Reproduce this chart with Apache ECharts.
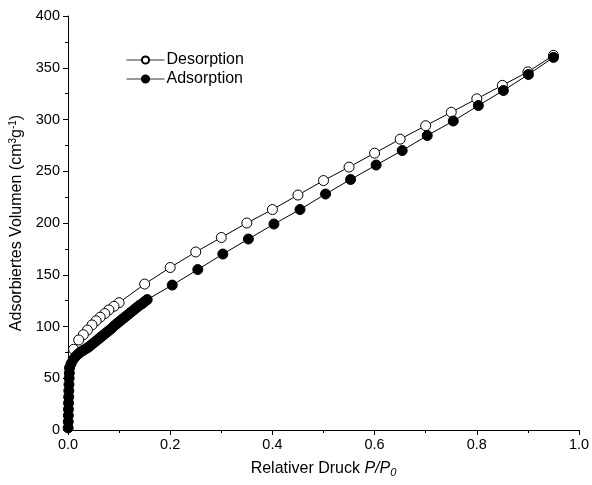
<!DOCTYPE html>
<html>
<head>
<meta charset="utf-8">
<script src="https://cdn.jsdelivr.net/npm/echarts@6/dist/echarts.min.js"></script>
<style>
  html, body { margin: 0; padding: 0; background: #fff; }
  #chart { width: 592px; height: 485px; }
</style>
</head>
<body>
<div id="chart"></div>
<script>
// Nitrogen sorption isotherm: relative pressure vs. adsorbed volume
const desorptionP = [0.950, 0.900, 0.850, 0.800, 0.750, 0.700, 0.650, 0.600, 0.550, 0.500,
  0.450, 0.400, 0.350, 0.300, 0.250, 0.200, 0.150, 0.100, 0.090, 0.080, 0.072, 0.063,
  0.055, 0.047, 0.038, 0.030, 0.021, 0.011];
const desorptionV = [362, 346, 333, 320, 307, 294, 281, 267.5, 254, 241,
  227, 213, 200, 186, 172, 157, 141, 123, 119.5, 116, 112.5, 109,
  105.5, 101.5, 96.5, 92, 87, 78];

const adsorptionP = [0.0003, 0.0005, 0.0007, 0.0009, 0.0011, 0.0013, 0.0016, 0.0019, 0.0022,
  0.0026, 0.003, 0.006, 0.010, 0.015, 0.020, 0.025, 0.030, 0.035, 0.040, 0.045, 0.050,
  0.055, 0.060, 0.065, 0.070, 0.075, 0.080, 0.085, 0.090, 0.095, 0.100, 0.105, 0.110,
  0.115, 0.120, 0.125, 0.130, 0.135, 0.140, 0.145, 0.150, 0.155,
  0.204, 0.254, 0.303, 0.353, 0.403, 0.454, 0.504, 0.553, 0.603, 0.654, 0.703,
  0.754, 0.803, 0.852, 0.901, 0.950];
const adsorptionV = [2, 8, 14, 20, 26, 32, 38, 44, 50, 55, 60, 64, 68, 71, 73.5, 75.5, 77, 78.5,
  80, 82, 84, 86, 88, 90, 92, 94, 96, 98, 100.5, 102.5, 104.5, 106.5, 108.5, 110.5,
  112.5, 114.5, 116.5, 118.5, 120.5, 122, 124, 126,
  140, 155, 170, 184.5, 199, 213, 228, 242, 256, 270, 284.5, 298.5, 313.5, 328, 343.5, 360];

const xTickLabels = ['0.0', '0.2', '0.4', '0.6', '0.8', '1.0'];
const seriesNames = ['Desorption', 'Adsorption'];

const pairs = (xs, ys) => xs.map((x, i) => [x, ys[i]]);
const font = 'Liberation Sans, Arial, sans-serif';

const chart = echarts.init(document.getElementById('chart'), null, { renderer: 'canvas' });
chart.setOption({
  animation: false,
  backgroundColor: '#fff',
  grid: { left: 68, right: 13, top: 16, bottom: 55, containLabel: false, outerBoundsMode: 'none' },
  legend: {
    data: seriesNames,
    orient: 'vertical',
    left: 121,
    top: 47,
    itemWidth: 38,
    itemHeight: 9,
    itemGap: 3,
    lineStyle: { color: '#333', width: 1 },
    textStyle: { fontFamily: font, fontSize: 16, color: '#000', padding: [0, 0, 0, -3] }
  },
  xAxis: {
    type: 'value',
    min: 0, max: 1, interval: 0.2,
    name: '{n|Relativer Druck }{i|P/P}{s|0}',
    nameLocation: 'middle',
    nameGap: 30,
    nameTextStyle: {
      rich: {
        n: { fontFamily: font, fontSize: 16, color: '#000' },
        i: { fontFamily: font, fontSize: 16, fontStyle: 'italic', color: '#000' },
        s: { fontFamily: font, fontSize: 11, fontStyle: 'italic', color: '#000', verticalAlign: 'bottom', padding: [7, 0, 0, 0] }
      }
    },
    axisLine: { lineStyle: { color: '#000', width: 1 } },
    axisTick: { show: true, length: 5, lineStyle: { color: '#000' } },
    minorTick: { show: true, splitNumber: 2, length: 3, lineStyle: { color: '#000' } },
    axisLabel: { fontFamily: font, fontSize: 14.5, color: '#000', margin: 7,
      formatter: (v) => xTickLabels[Math.round(v / 0.2)] },
    splitLine: { show: false }
  },
  yAxis: {
    type: 'value',
    min: 0, max: 400, interval: 50,
    name: '{n|Adsorbiertes Volumen (cm}{s|3}{n|g}{s|-1}{n|)}',
    nameLocation: 'middle',
    nameGap: 42,
    nameTextStyle: {
      rich: {
        n: { fontFamily: font, fontSize: 16, color: '#000' },
        s: { fontFamily: font, fontSize: 10, color: '#000', verticalAlign: 'top', padding: [0, 0, 8, 0] }
      }
    },
    axisLine: { show: true, lineStyle: { color: '#000', width: 1 } },
    axisTick: { show: true, length: 5, lineStyle: { color: '#000' } },
    minorTick: { show: true, splitNumber: 2, length: 3, lineStyle: { color: '#000' } },
    axisLabel: { fontFamily: font, fontSize: 14.5, color: '#000', margin: 8 },
    splitLine: { show: false }
  },
  series: [
    {
      name: seriesNames[0],
      type: 'line',
      data: pairs(desorptionP, desorptionV),
      symbol: 'circle',
      symbolSize: 10,
      showAllSymbol: true,
      lineStyle: { color: '#000', width: 1 },
      itemStyle: { color: '#fff', borderColor: '#000', borderWidth: 1 },
      z: 2
    },
    {
      name: seriesNames[1],
      type: 'line',
      data: pairs(adsorptionP, adsorptionV),
      symbol: 'circle',
      symbolSize: 10,
      showAllSymbol: true,
      lineStyle: { color: '#000', width: 1 },
      itemStyle: { color: '#000', borderColor: '#000', borderWidth: 1 },
      z: 3
    }
  ]
});
</script>
</body>
</html>
